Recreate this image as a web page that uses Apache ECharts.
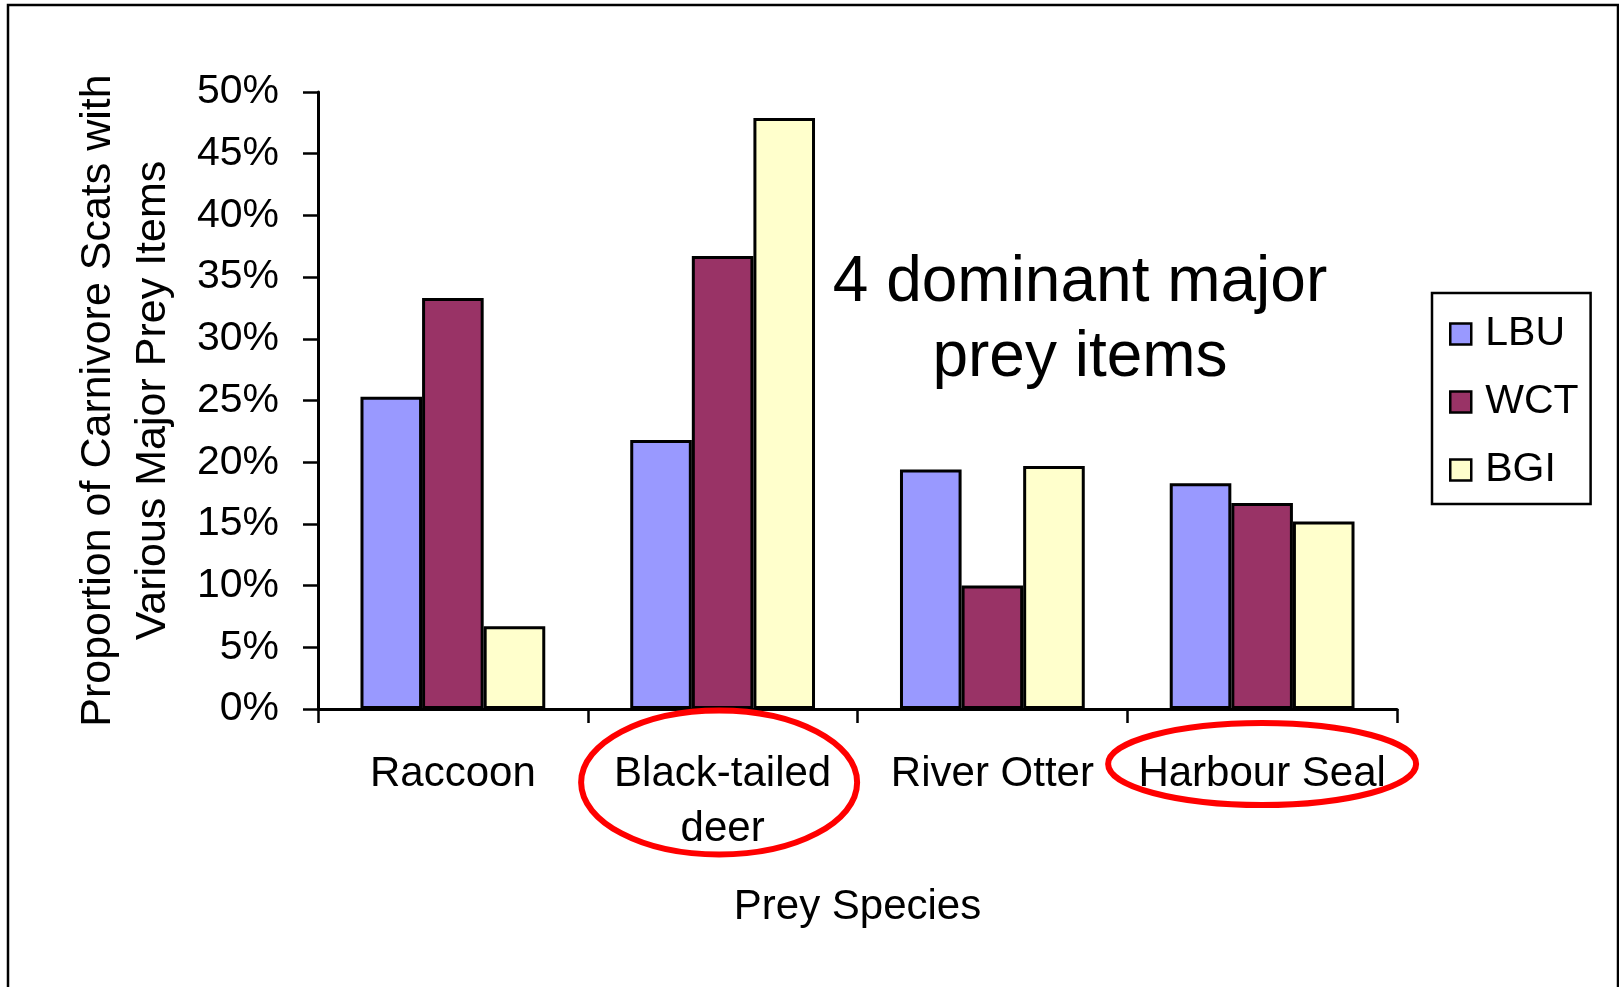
<!DOCTYPE html>
<html>
<head>
<meta charset="utf-8">
<title>Prey Species</title>
<script src="https://cdn.jsdelivr.net/npm/echarts@6/dist/echarts.min.js"></script>
<style>
    html, body { margin: 0; padding: 0; background: #fff; }
    #chart { width: 1619px; height: 987px; }
</style>
</head>
<body>
<div id="chart"></div>
<script>
    // values, in percent
    const categories = ['Raccoon', 'Black-tailed\ndeer', 'River Otter', 'Harbour Seal']
    const lbu = [25.3, 21.8, 19.4, 18.3]
    const wct = [33.3, 36.7, 10.0, 16.7]
    const bgi = [6.7, 47.9, 19.7, 15.2]
    const yTicks = [0, 5, 10, 15, 20, 25, 30, 35, 40, 45, 50]

    const font = 'Arial, "Liberation Sans", sans-serif'
    const chart = echarts.init(document.getElementById('chart'))

    function barSeries(name, color, data) {
        return {
            name: name,
            type: 'bar',
            data: data,
            barGap: 0,
            barCategoryGap: '31.5%',
            itemStyle: { color: color, borderColor: '#000', borderWidth: 3 },
            animation: false
        }
    }

    chart.setOption({
        backgroundColor: '#fff',
        textStyle: { fontFamily: font },
        grid: { left: 318, right: 222, top: 92, bottom: 278, outerBoundsMode: 'none' },
        legend: {
            orient: 'vertical',
            left: 1432,
            top: 293,
            padding: [20, 12, 13, 17],
            borderColor: '#000',
            borderWidth: 2.5,
            itemWidth: 21,
            itemHeight: 21,
            itemGap: 26,
            icon: 'rect',
            itemStyle: { borderColor: '#000', borderWidth: 2.5 },
            textStyle: { fontFamily: font, fontSize: 41, lineHeight: 42, color: '#000', padding: [0, 0, 0, 9] },
            data: ['LBU', 'WCT', 'BGI']
        },
        xAxis: {
            type: 'category',
            data: categories,
            name: 'Prey Species',
            nameLocation: 'middle',
            nameGap: 171,
            nameTextStyle: { fontFamily: font, fontSize: 42, lineHeight: 55, color: '#000' },
            axisLine: { lineStyle: { color: '#000', width: 3 } },
            axisTick: { show: true, alignWithLabel: false, length: 14, lineStyle: { color: '#000', width: 2.5 } },
            axisLabel: { fontFamily: font, fontSize: 42, lineHeight: 55, color: '#000', margin: 38, interval: 0 }
        },
        yAxis: {
            type: 'value',
            min: yTicks[0],
            max: yTicks[yTicks.length - 1],
            interval: yTicks[1] - yTicks[0],
            name: 'Proportion of Carnivore Scats with\nVarious Major Prey Items',
            nameLocation: 'middle',
            nameGap: 137,
            nameTextStyle: { fontFamily: font, fontSize: 43, lineHeight: 55, color: '#000' },
            splitLine: { show: false },
            axisLine: { show: true, lineStyle: { color: '#000', width: 3 } },
            axisTick: { show: true, length: 15, lineStyle: { color: '#000', width: 2.5 } },
            axisLabel: { fontFamily: font, fontSize: 41, color: '#000', margin: 39, padding: [6, 0, 0, 0], formatter: '{value}%' }
        },
        series: [
            barSeries('LBU', '#9999FF', lbu),
            barSeries('WCT', '#993366', wct),
            barSeries('BGI', '#FFFFCC', bgi)
        ]
    })

    // annotations: frame, text and red circles placed from the axes
    const axisY = chart.convertToPixel({ yAxisIndex: 0 }, 0)
    const deerX = chart.convertToPixel({ xAxisIndex: 0 }, categories[1])
    const sealX = chart.convertToPixel({ xAxisIndex: 0 }, categories[3])

    chart.setOption({
        graphic: [
            {
                id: 'frame',
                type: 'polyline',
                shape: { points: [[8, 987], [8, 5], [1618, 5], [1618, 987]] },
                style: { stroke: '#000', lineWidth: 2.5, fill: null },
                z: 100
            },
            {
                id: 'note',
                type: 'text',
                x: 1080,
                y: 246,
                style: {
                    text: '4 dominant major\nprey items',
                    font: '64px ' + font,
                    fill: '#000',
                    textAlign: 'center',
                    textVerticalAlign: 'top',
                    lineHeight: 75
                },
                z: 100
            },
            {
                id: 'deerRing',
                type: 'ellipse',
                shape: { cx: deerX - 3.5, cy: axisY + 73.5, rx: 138, ry: 72 },
                style: { stroke: '#ff0000', lineWidth: 6, fill: null },
                z: 100
            },
            {
                id: 'sealRing',
                type: 'ellipse',
                shape: { cx: sealX, cy: axisY + 55, rx: 154, ry: 41 },
                style: { stroke: '#ff0000', lineWidth: 6, fill: null },
                z: 100
            }
        ]
    })
</script>
</body>
</html>
